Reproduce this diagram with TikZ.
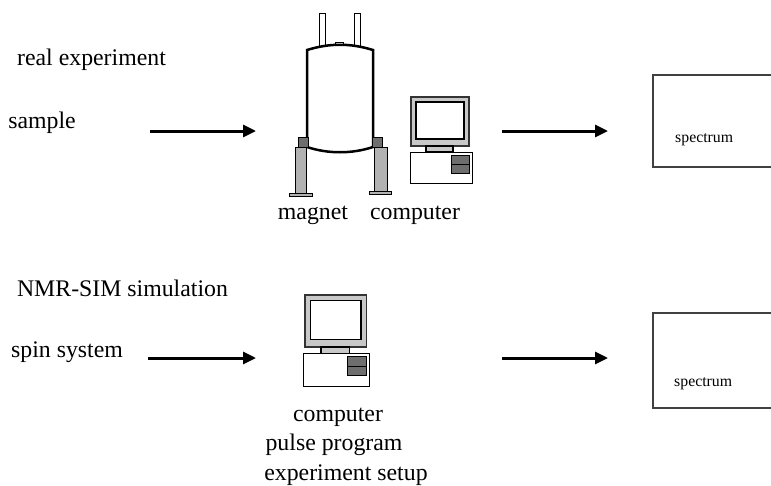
\documentclass[tikz,border=0pt]{standalone}
\usepackage{fontspec}
\setmainfont{Liberation Serif}
\usepackage{tikz}
\usetikzlibrary{arrows.meta}
\usetikzlibrary{positioning}

\definecolor{framegray}{RGB}{200,200,200}
\definecolor{leggray}{RGB}{178,178,178}
\definecolor{blockgray}{RGB}{110,110,110}

\tikzstyle{txt} = [font=\fontsize{23.8}{28.6}\selectfont, inner sep=0pt, anchor=base]
\tikzstyle{smalltxt} = [font=\fontsize{15.8}{19}\selectfont, inner sep=0pt, anchor=base west]
\tikzstyle{line} = [draw, line width=3pt, -{Triangle[length=13pt,width=12pt]}]
\tikzstyle{specbox} = [draw=black!75, line width=1.5pt, anchor=north west,
    minimum width=160pt]

% desktop computer, origin at the top left of the monitor
\newcommand{\pcdraw}[2]{%
  \begin{scope}[shift={#1}, scale=#2]
    \draw[draw=black!80, line width=1.2pt, fill=framegray] (0,0) rectangle (58,49);
    \draw[line width=1.6pt, fill=white] (5,5) rectangle (53,42);
    \draw[line width=1.2pt, fill=framegray] (15,49) rectangle (42,55);
    \draw[line width=1pt, fill=white] (-1,55) rectangle (61,86);
    \draw[line width=1pt, fill=blockgray] (40,58) rectangle (58,67);
    \draw[line width=1pt, fill=blockgray] (40,67) rectangle (58,76);
  \end{scope}}

\begin{document}
\begin{tikzpicture}[x=1pt, y=-1pt]
  \useasboundingbox (0,0) rectangle (771,485);

  % Real experiment row
  \node [txt] (realexp) at (91.5,65) {real experiment};
  \node [txt] (sample) at (42,128) {sample};

  % magnet: helium tubes, dewar and legs
  \draw [line width=1pt, fill=white] (319,13) rectangle (325,48);
  \draw [line width=1pt, fill=white] (354,13) rectangle (360,48);
  \draw [line width=1pt, fill=white] (335,42) rectangle (343,47);
  \draw [line width=2.5pt, fill=white] (307,50) .. controls (330,43) and (350,43) .. (373,50)
    -- (373,147) .. controls (352,154) and (328,154) .. (307,147) -- cycle;
  \draw [line width=0.8pt, fill=blockgray] (298,137) rectangle (308,147);
  \draw [line width=0.8pt, fill=leggray] (295,147) rectangle (306,193);
  \draw [line width=0.8pt, fill=leggray] (289,193) rectangle (312,196);
  \draw [line width=0.8pt, fill=blockgray] (372,137) rectangle (382,147);
  \draw [line width=0.8pt, fill=leggray] (374,147) rectangle (387,191);
  \draw [line width=0.8pt, fill=leggray] (369,191) rectangle (391,194);
  \node [txt] (magnet) at (313,219) {magnet};

  \pcdraw{(411,97)}{1}
  \node [txt] (comp1) at (415,219) {computer};

  \node [specbox, minimum height=92pt] (spec1) at (652,74) {};
  \node [smalltxt] (spec1txt) at (675,142) {spectrum};

  % Simulation row
  \node [txt] (nmrsim) at (122.5,296) {NMR-SIM simulation};
  \node [txt] (spin) at (67,357) {spin system};

  \pcdraw{(305,295)}{1.06}
  \node [txt] (comp2) at (338,421) {computer};
  \node [txt] (pulse) at (334,450) {pulse program};
  \node [txt] (setup) at (346,480) {experiment setup};

  \node [specbox, minimum height=95pt] (spec2) at (652,312) {};
  \node [smalltxt] (spec2txt) at (674,386) {spectrum};

  % Draw edges
  \coordinate (a1s) at (150,131);
  \coordinate (a1e) at (256,131);
  \coordinate (a2s) at (502,131);
  \coordinate (a2e) at (608,131);
  \coordinate (a3s) at (148,358);
  \coordinate (a3e) at (256,358);
  \coordinate (a4s) at (502,358);
  \coordinate (a4e) at (608,358);
  \path [line] (a1s) -- (a1e);
  \path [line] (a2s) -- (a2e);
  \path [line] (a3s) -- (a3e);
  \path [line] (a4s) -- (a4e);
\end{tikzpicture}
\end{document}
